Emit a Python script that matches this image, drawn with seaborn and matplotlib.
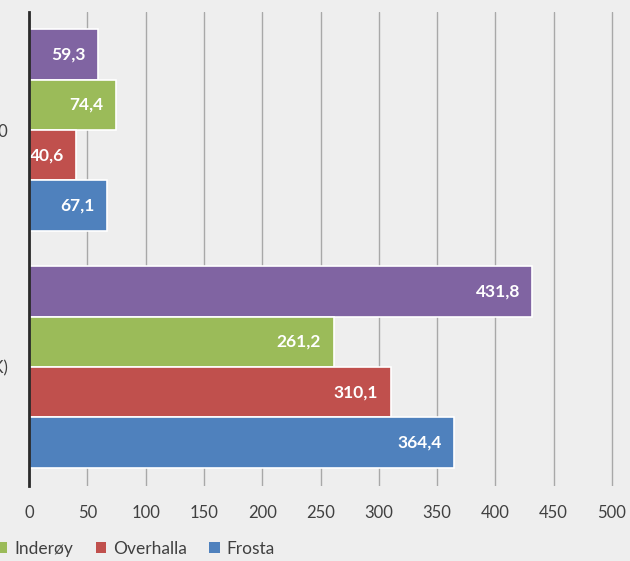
import matplotlib
matplotlib.use("Agg")
import matplotlib.pyplot as plt
import seaborn as sns
import pandas as pd
from matplotlib.patches import Patch

categories = ["Antall per 1000", "Kostnad (1000 NOK)"]
municipalities = ["Snåsa", "Inderøy", "Overhalla", "Frosta"]
colors = ["#8064A2", "#9BBB59", "#C0504D", "#4F81BD"]
values = {
    "Snåsa": [59.3, 431.8],
    "Inderøy": [74.4, 261.2],
    "Overhalla": [40.6, 310.1],
    "Frosta": [67.1, 364.4],
}
x_ticks = [0, 50, 100, 150, 200, 250, 300, 350, 400, 450, 500]

rows = []
for m in municipalities:
    for c, v in zip(categories, values[m]):
        rows.append({"kategori": c, "kommune": m, "verdi": v})
df = pd.DataFrame(rows)

sns.set_theme(style="white")
plt.rcParams["font.family"] = ["Lato", "DejaVu Sans"]

bg = "#eeeeee"
fig = plt.figure(figsize=(6.3, 5.61), dpi=100, facecolor=bg)
W, H = 630, 561
left, right = 29, 630
top, bottom = 11.5, 485.5
ax = fig.add_axes([left / W, 1 - bottom / H, (right - left) / W, (bottom - top) / H])
ax.set_facecolor(bg)

sns.barplot(data=df, y="kategori", x="verdi", hue="kommune", order=categories,
            hue_order=municipalities, palette=colors, orient="h", width=0.85,
            saturation=1, edgecolor="white", linewidth=1.2, ax=ax,
            legend=False, zorder=3)

ax.set_xlim(0, (right - left) / 1.166)
ax.set_ylim(1.5, -0.5)
ax.set_xticks(x_ticks)
ax.set_xticklabels([str(t) for t in x_ticks], fontsize=12, color="#404040")
ax.tick_params(axis="x", length=0, pad=14)
ax.tick_params(axis="y", length=0, pad=15)
ax.set_yticks(range(len(categories)))
ax.set_yticklabels(categories, fontsize=12, color="#404040")
ax.set_xlabel("")
ax.set_ylabel("")
ax.grid(axis="x", color="#a8a8a8", linewidth=1.0, zorder=0)
for s in ["top", "right", "bottom"]:
    ax.spines[s].set_visible(False)
ax.spines["left"].set_color("#2a2a2a")
ax.spines["left"].set_linewidth(2)
ax.spines["left"].set_zorder(5)

for container in ax.containers:
    labels = [f"{b.get_width():.1f}".replace(".", ",") for b in container]
    ax.bar_label(container, labels=labels, padding=-9, color="white",
                 fontsize=12.5, fontweight="bold", label_type="edge")
for t in ax.texts:
    t.set_horizontalalignment("right")

handles = [Patch(facecolor=c, edgecolor="none") for c in colors]
fig.legend(handles, municipalities, loc="center left", ncol=4,
           bbox_to_anchor=(-0.163, 1 - 549 / H), frameon=False, fontsize=12.5,
           handlelength=0.6, handleheight=0.6, handletextpad=0.4,
           columnspacing=1.3, labelcolor="#404040")

fig.savefig("out.png", dpi=100, facecolor=bg)
